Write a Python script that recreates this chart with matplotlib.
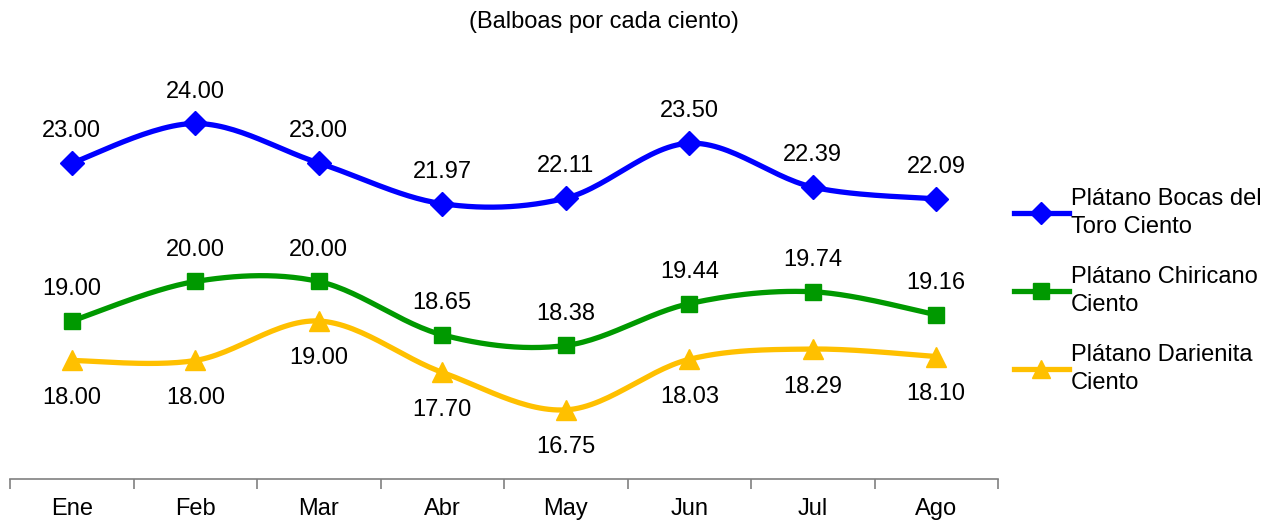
import numpy as np
import matplotlib.pyplot as plt
from matplotlib.lines import Line2D

months = ["Ene", "Feb", "Mar", "Abr", "May", "Jun", "Jul", "Ago"]
bocas = [23.00, 24.00, 23.00, 21.97, 22.11, 23.50, 22.39, 22.09]
chiricano = [19.00, 20.00, 20.00, 18.65, 18.38, 19.44, 19.74, 19.16]
darienita = [18.00, 18.00, 19.00, 17.70, 16.75, 18.03, 18.29, 18.10]

series = [
    ("Plátano Bocas del\nToro Ciento", bocas, "#0000FF", "D", 12, "above"),
    ("Plátano Chiricano\nCiento", chiricano, "#009900", "s", 12, "above"),
    ("Plátano Darienita\nCiento", darienita, "#FFC000", "^", 14, "below"),
]

plt.rcParams["font.family"] = ["Liberation Sans", "DejaVu Sans"]
FS = 17


def smooth(x, y, n=30):
    # Catmull-Rom style smoothing, similar to Excel's smoothed lines
    x = np.asarray(x, float)
    y = np.asarray(y, float)
    px = np.concatenate([[x[0]], x, [x[-1]]])
    py = np.concatenate([[y[0]], y, [y[-1]]])
    xs, ys = [], []
    t = np.linspace(0, 1, n)
    for i in range(1, len(px) - 2):
        p0, p1, p2, p3 = [np.array([px[j], py[j]]) for j in (i - 1, i, i + 1, i + 2)]
        c1 = p1 + (p2 - p0) / 6
        c2 = p2 - (p3 - p1) / 6
        pts = ((1 - t) ** 3)[:, None] * p1 + (3 * (1 - t) ** 2 * t)[:, None] * c1 \
            + (3 * (1 - t) * t ** 2)[:, None] * c2 + (t ** 3)[:, None] * p2
        xs.extend(pts[:, 0])
        ys.extend(pts[:, 1])
    return xs, ys


fig = plt.figure(figsize=(12.8, 5.22), dpi=100)
ax = fig.add_axes([10 / 1280, 1 - 479 / 522, 988 / 1280, 434.5 / 522])

x = np.arange(len(months))
handles = []
for label, vals, color, marker, ms, pos in series:
    sx, sy = smooth(x, vals)
    ax.plot(sx, sy, color=color, lw=3.8, solid_capstyle="round", zorder=2)
    ax.plot(x, vals, ls="none", marker=marker, ms=ms, color=color, zorder=3)
    for xi, v in zip(x, vals):
        dy = 23 if pos == "above" else -27
        ax.annotate(f"{v:.2f}", (xi, v), xytext=(0, dy), textcoords="offset points",
                    ha="center", va="center", fontsize=FS, color="black")
    handles.append(Line2D([], [], color=color, lw=3.8, marker=marker, ms=ms - 1, label=label))

ax.set_xlim(-0.5, len(months) - 0.5)
ax.set_ylim(15, 26)
ax.set_yticks([])
for s in ("top", "right", "left"):
    ax.spines[s].set_visible(False)
ax.spines["bottom"].set_color("#808080")
ax.spines["bottom"].set_linewidth(1.2)
ax.set_xticks(np.arange(len(months) + 1) - 0.5)
ax.set_xticklabels([])
ax.tick_params(axis="x", which="major", length=7, color="#808080", width=1.2, direction="out")
ax.set_xticks(x, minor=True)
ax.set_xticklabels(months, minor=True, fontsize=FS)
ax.tick_params(axis="x", which="minor", length=0, pad=14)

fig.text(604 / 1280, 1 - 22 / 522, "(Balboas por cada ciento)", ha="center", va="center", fontsize=FS)

leg = fig.legend(handles=handles, loc="center left", bbox_to_anchor=(993 / 1280, 1 - 291 / 522),
                 frameon=False, fontsize=FS, handlelength=2.3, handletextpad=0.1,
                 labelspacing=1.15)
for t in leg.get_texts():
    t.set_linespacing(1.4)

fig.savefig("out.png", dpi=100)
